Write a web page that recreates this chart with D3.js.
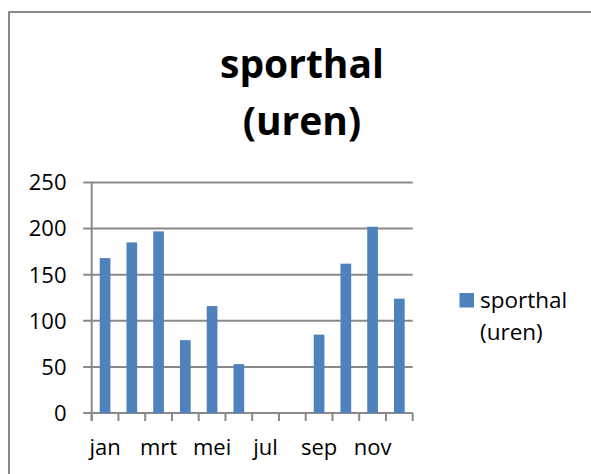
<!DOCTYPE html>
<html>
<head>
<meta charset="utf-8">
<script src="https://cdn.jsdelivr.net/npm/d3@7"></script>
<style>
  html, body { margin: 0; padding: 0; background: #fff; }
  svg { display: block; }
  text { font-family: "Open Sans", "Noto Sans", sans-serif; fill: #000; }
</style>
</head>
<body>
<svg id="chart" width="591" height="474"></svg>
<script>
// Monthly hours of the sports hall
const months = ["jan", "feb", "mrt", "apr", "mei", "jun", "jul", "aug", "sep", "okt", "nov", "dec"];
const hours = [168, 185, 197, 79, 116, 53, 0, 0, 85, 162, 202, 124];
const yTicks = [0, 50, 100, 150, 200, 250];
const xLabels = ["jan", "mrt", "mei", "jul", "sep", "nov"];
const titleLines = ["sporthal", "(uren)"];
const legendLines = ["sporthal", "(uren)"];

const svg = d3.select("#chart");
const barColor = "#4f81bd";
const lineColor = "#898989";

// chart area frame (runs off the right and bottom edges)
svg.append("rect")
  .attr("x", 9).attr("y", 12)
  .attr("width", 600).attr("height", 480)
  .attr("fill", "#fff")
  .attr("stroke", lineColor).attr("stroke-width", 2);

const plot = { left: 91.7, right: 412.7, top: 182.5, bottom: 413 };

const x = d3.scaleBand()
  .domain(months)
  .range([plot.left, plot.right])
  .paddingInner(0.6)
  .paddingOuter(0.3);
const step = x.step();

const y = d3.scaleLinear()
  .domain([0, 250])
  .range([plot.bottom, plot.top]);

// horizontal gridlines with small outer ticks on the left
svg.append("g").selectAll("line")
  .data(yTicks)
  .join("line")
  .attr("x1", plot.left - 8.5).attr("x2", plot.right)
  .attr("y1", d => y(d)).attr("y2", d => y(d))
  .attr("stroke", lineColor).attr("stroke-width", 2);

// value axis line
svg.append("line")
  .attr("x1", plot.left).attr("x2", plot.left)
  .attr("y1", y(250)).attr("y2", plot.bottom + 8)
  .attr("stroke", lineColor).attr("stroke-width", 2);

// category boundary ticks
const boundaries = d3.range(months.length + 1).map(i => plot.left + i * step);
svg.append("g").selectAll("line")
  .data(boundaries)
  .join("line")
  .attr("x1", d => d).attr("x2", d => d)
  .attr("y1", plot.bottom).attr("y2", plot.bottom + 8)
  .attr("stroke", lineColor).attr("stroke-width", 2);

// bars
svg.append("g").selectAll("rect")
  .data(months.map((m, i) => ({ m, v: hours[i] })))
  .join("rect")
  .attr("x", d => x(d.m))
  .attr("width", x.bandwidth())
  .attr("y", d => y(d.v))
  .attr("height", d => y(0) - y(d.v))
  .attr("fill", barColor);

// y tick labels
svg.append("g").selectAll("text")
  .data(yTicks)
  .join("text")
  .attr("x", 66.5)
  .attr("y", d => y(d) + 7.8)
  .attr("text-anchor", "end")
  .attr("font-size", 22)
  .text(d => d);

// x tick labels (every other month)
svg.append("g").selectAll("text")
  .data(xLabels)
  .join("text")
  .attr("x", d => x(d) + x.bandwidth() / 2)
  .attr("y", 455)
  .attr("text-anchor", "middle")
  .attr("font-size", 22)
  .text(d => d);

// title, two lines
const titleWidths = [163, 119];
svg.append("g").selectAll("text")
  .data(titleLines)
  .join("text")
  .attr("x", 302)
  .attr("y", (d, i) => 77.5 + i * 57.5)
  .attr("text-anchor", "middle")
  .attr("font-size", 39)
  .attr("font-weight", "bold")
  .text(d => d)
  .each(function (d, i) {
    const w = this.getComputedTextLength();
    if (Math.abs(w - titleWidths[i]) > 3) {
      d3.select(this).attr("textLength", titleWidths[i]).attr("lengthAdjust", "spacingAndGlyphs");
    }
  });

// legend
const legend = svg.append("g");
legend.append("rect")
  .attr("x", 459.5).attr("y", 293)
  .attr("width", 14.5).attr("height", 14.5)
  .attr("fill", barColor);
legend.selectAll("text")
  .data(legendLines)
  .join("text")
  .attr("x", 480)
  .attr("y", (d, i) => 308 + i * 32)
  .attr("font-size", 22.5)
  .text(d => d);
</script>
</body>
</html>
